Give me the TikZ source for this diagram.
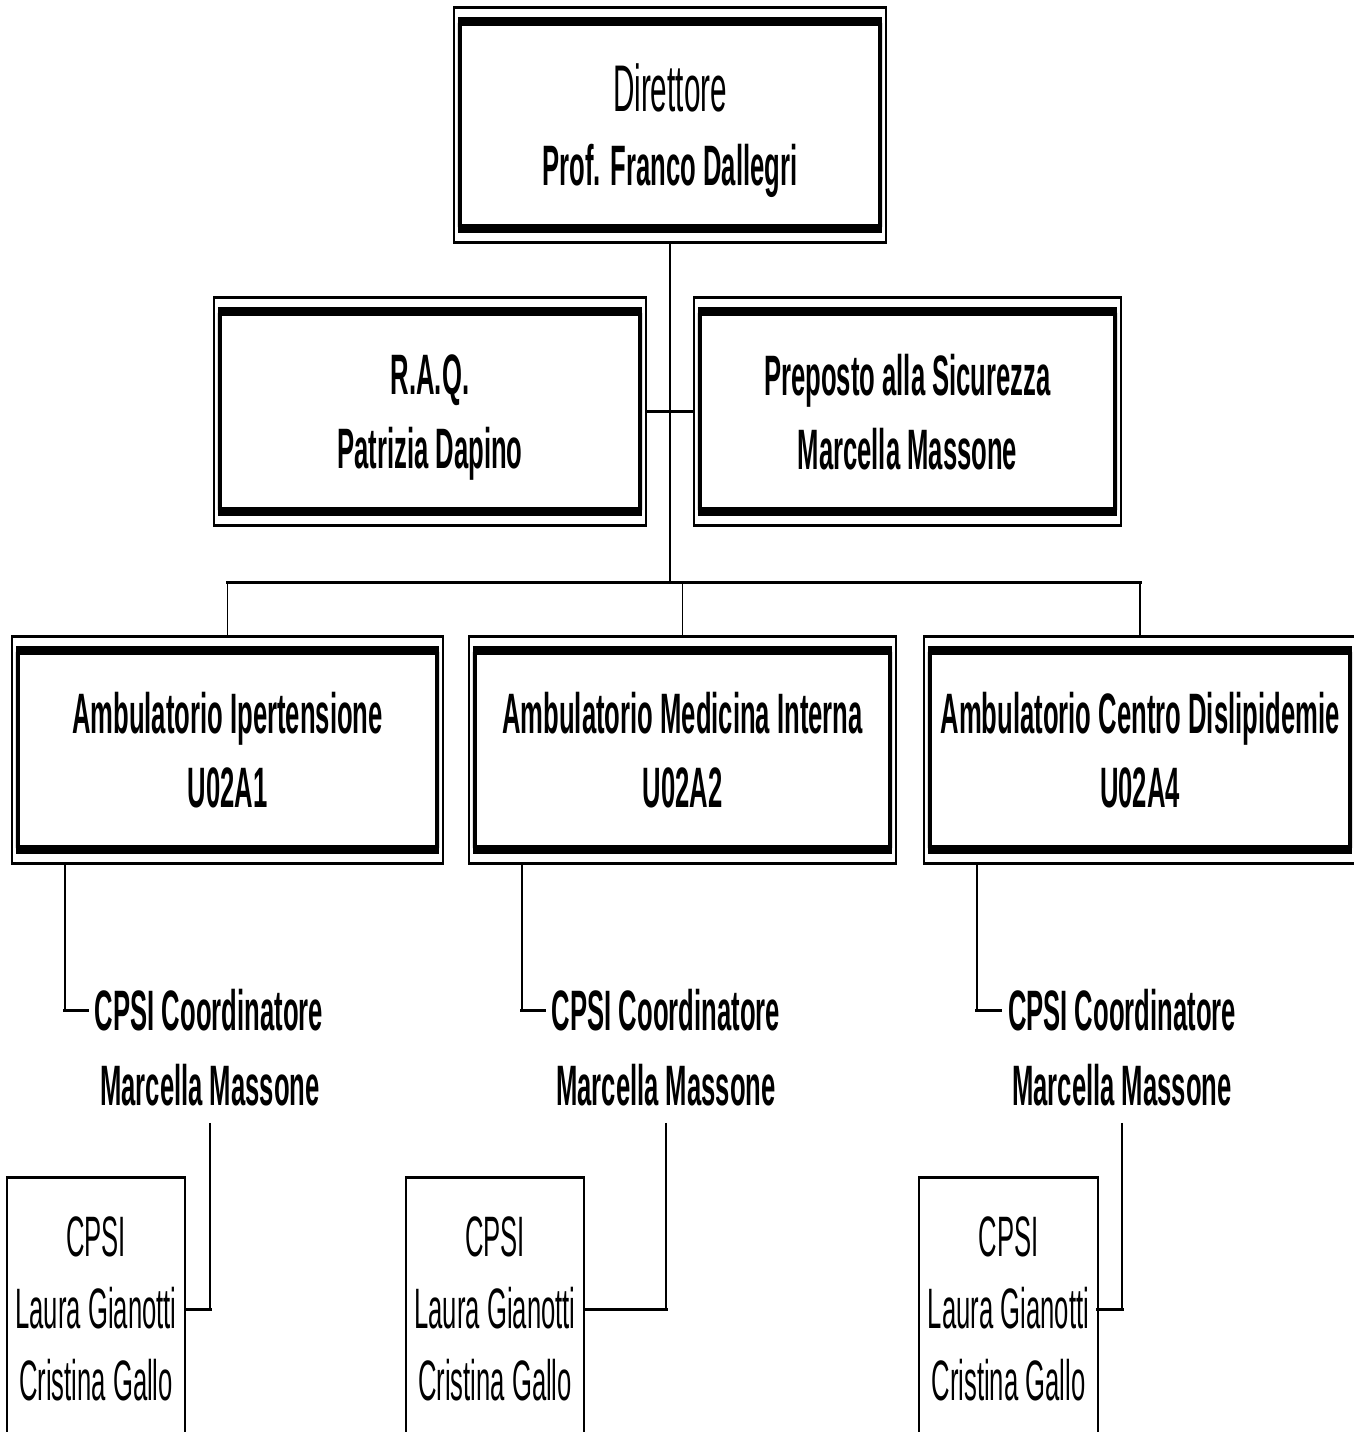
\documentclass[tikz,border=0pt]{standalone}
\usepackage{fontspec}
\setmainfont{Liberation Sans}[FakeStretch=0.45]
\begin{document}
\begin{tikzpicture}[x=1pt,y=-1pt,
  vline/.style={line width=1.8pt},
  hline/.style={line width=3pt, line cap=rect},
  txt/.style={font=\fontsize{57}{74}\selectfont\bfseries, align=center, text depth=0pt, inner sep=0pt},
  ftxt/.style={txt, minimum width=#1},
  ctxt/.style={txt, inner xsep=7pt, inner ysep=0pt},
  ptxt/.style={font=\fontsize{57}{72}\selectfont, align=center, text depth=0pt, inner sep=0pt, minimum width=178pt, minimum height=262pt}
]
\newcommand\fframe[1]{%
  \draw[line width=1.6pt] (#1.north west) rectangle (#1.south east);
  \draw[line width=3pt] ([xshift=-0.8pt]#1.north west) -- ([xshift=0.8pt]#1.north east)
                        ([xshift=-0.8pt]#1.south west) -- ([xshift=0.8pt]#1.south east);
  \draw[line width=4pt, rounded corners=2pt] ([xshift=6pt,yshift=-14pt]#1.north west) rectangle ([xshift=-6pt,yshift=14pt]#1.south east);
  \draw[line width=9pt] ([xshift=4pt,yshift=-14pt]#1.north west) -- ([xshift=-4pt,yshift=-14pt]#1.north east)
                        ([xshift=4pt,yshift=14pt]#1.south west) -- ([xshift=-4pt,yshift=14pt]#1.south east);
}
\newcommand\pframe[1]{%
  \draw[vline] (#1.south west) -- (#1.north west) (#1.north east) -- (#1.south east);
  \draw[line width=3pt] ([xshift=-0.9pt]#1.north west) -- ([xshift=0.9pt]#1.north east);
}
\clip (0,0) rectangle (1354,1432);
\fill[white] (0,0) rectangle (1354,1432);

% top level
\node[ftxt=432pt, minimum height=234pt] (dir) at (670,125) {{\fontsize{66}{74}\selectfont\mdseries Direttore}\\Prof. Franco Dallegri};
\node[ftxt=432pt, minimum height=227pt] (raq) at (430,411.5) {R.A.Q.\\Patrizia Dapino};
\node[ftxt=427pt, minimum height=227pt] (prep) at (907.5,411.5) {Preposto alla Sicurezza\\Marcella Massone};

\node[ftxt=431pt, minimum height=226pt] (amb1) at (227.5,750) {Ambulatorio Ipertensione\\U02A1};
\node[ftxt=427pt, minimum height=226pt] (amb2) at (682.5,750) {Ambulatorio Medicina Interna\\U02A2};
\node[ftxt=432pt, minimum height=226pt] (amb3) at (1140,750) {Ambulatorio Centro Dislipidemie\\U02A4};

\foreach \n in {dir,raq,prep,amb1,amb2,amb3} {\fframe{\n}}

% coordinators
\node[ctxt] (coA1) at (209,1010) {CPSI Coordinatore};
\node[ctxt] (coB1) at (210,1085) {Marcella Massone};
\node[ctxt] (coA2) at (666,1010) {CPSI Coordinatore};
\node[ctxt] (coB2) at (666,1085) {Marcella Massone};
\node[ctxt] (coA3) at (1122,1010) {CPSI Coordinatore};
\node[ctxt] (coB3) at (1122,1085) {Marcella Massone};

% CPSI boxes
\node[ptxt] (cp1) at (96,1309) {CPSI\\Laura Gianotti\\Cristina Gallo};
\node[ptxt] (cp2) at (495,1309) {CPSI\\Laura Gianotti\\Cristina Gallo};
\node[ptxt] (cp3) at (1008.5,1309) {CPSI\\Laura Gianotti\\Cristina Gallo};
\foreach \n in {cp1,cp2,cp3} {\pframe{\n}}

% connectors
\coordinate (bus) at (670,582);
\draw[vline] (dir.south) -- (bus);
\draw[hline] (raq.east) -- (prep.west);
\draw[hline] (amb1.north |- bus) -- (amb3.north |- bus);
\foreach \n in {amb1,amb2,amb3} {\draw[vline] (\n.north |- bus) -- (\n.north);}

\foreach \i in {1,2,3} {
  \draw[vline] ([xshift=53pt]amb\i.south west) -- ([xshift=53pt]amb\i.south west |- coA\i.west);
  \draw[hline] ([xshift=53pt]amb\i.south west |- coA\i.west) -- (coA\i.west);
  \draw[vline] ([yshift=-17pt]coB\i.south) -- (coB\i.south |- cp\i.east);
  \draw[hline] (coB\i.south |- cp\i.east) -- (cp\i.east);
}
\end{tikzpicture}
\end{document}
